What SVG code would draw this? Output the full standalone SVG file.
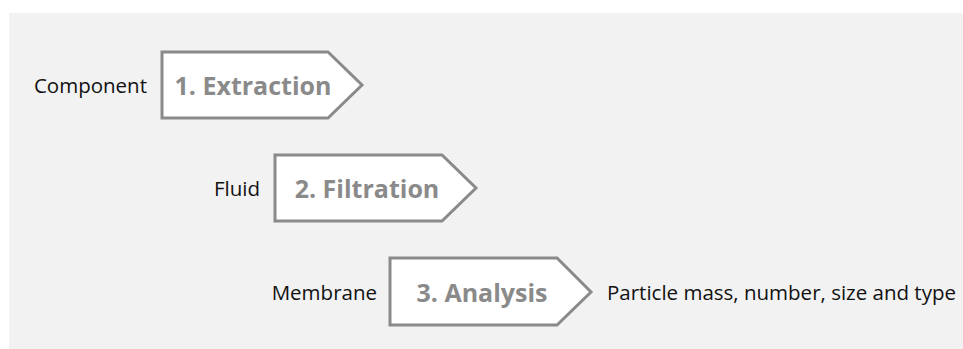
<svg xmlns="http://www.w3.org/2000/svg" width="963" height="349" viewBox="0 0 963 349">
<style>
.step{fill:#ffffff;stroke:#8a8a8a;stroke-width:3;stroke-linejoin:miter}
.title{font-family:"Open Sans","Liberation Sans",sans-serif;font-weight:bold;font-size:25px;fill:#8a8a8a;text-anchor:middle}
.lbl{font-family:"Open Sans","Liberation Sans",sans-serif;font-size:20.5px;fill:#111111}
.end{text-anchor:end}
</style>
<rect x="9" y="13" width="954" height="336" fill="#f2f2f2"/>
<g id="step1">
<polygon class="step" points="162,52 328,52 362,85 328,118 162,118"/>
<text class="title" x="253" y="95">1. Extraction</text>
<text class="lbl end" x="147" y="93">Component</text>
</g>
<g id="step2">
<polygon class="step" points="275,155 442,155 476,188 442,221 275,221"/>
<text class="title" x="367" y="198">2. Filtration</text>
<text class="lbl end" x="260" y="196">Fluid</text>
</g>
<g id="step3">
<polygon class="step" points="390,258 557,258 591,292 557,325 390,325"/>
<text class="title" x="482" y="302">3. Analysis</text>
<text class="lbl end" x="377" y="300">Membrane</text>
<text class="lbl" x="607" y="300">Particle mass, number, size and type</text>
</g>
<g id="connectors"/>
</svg>
